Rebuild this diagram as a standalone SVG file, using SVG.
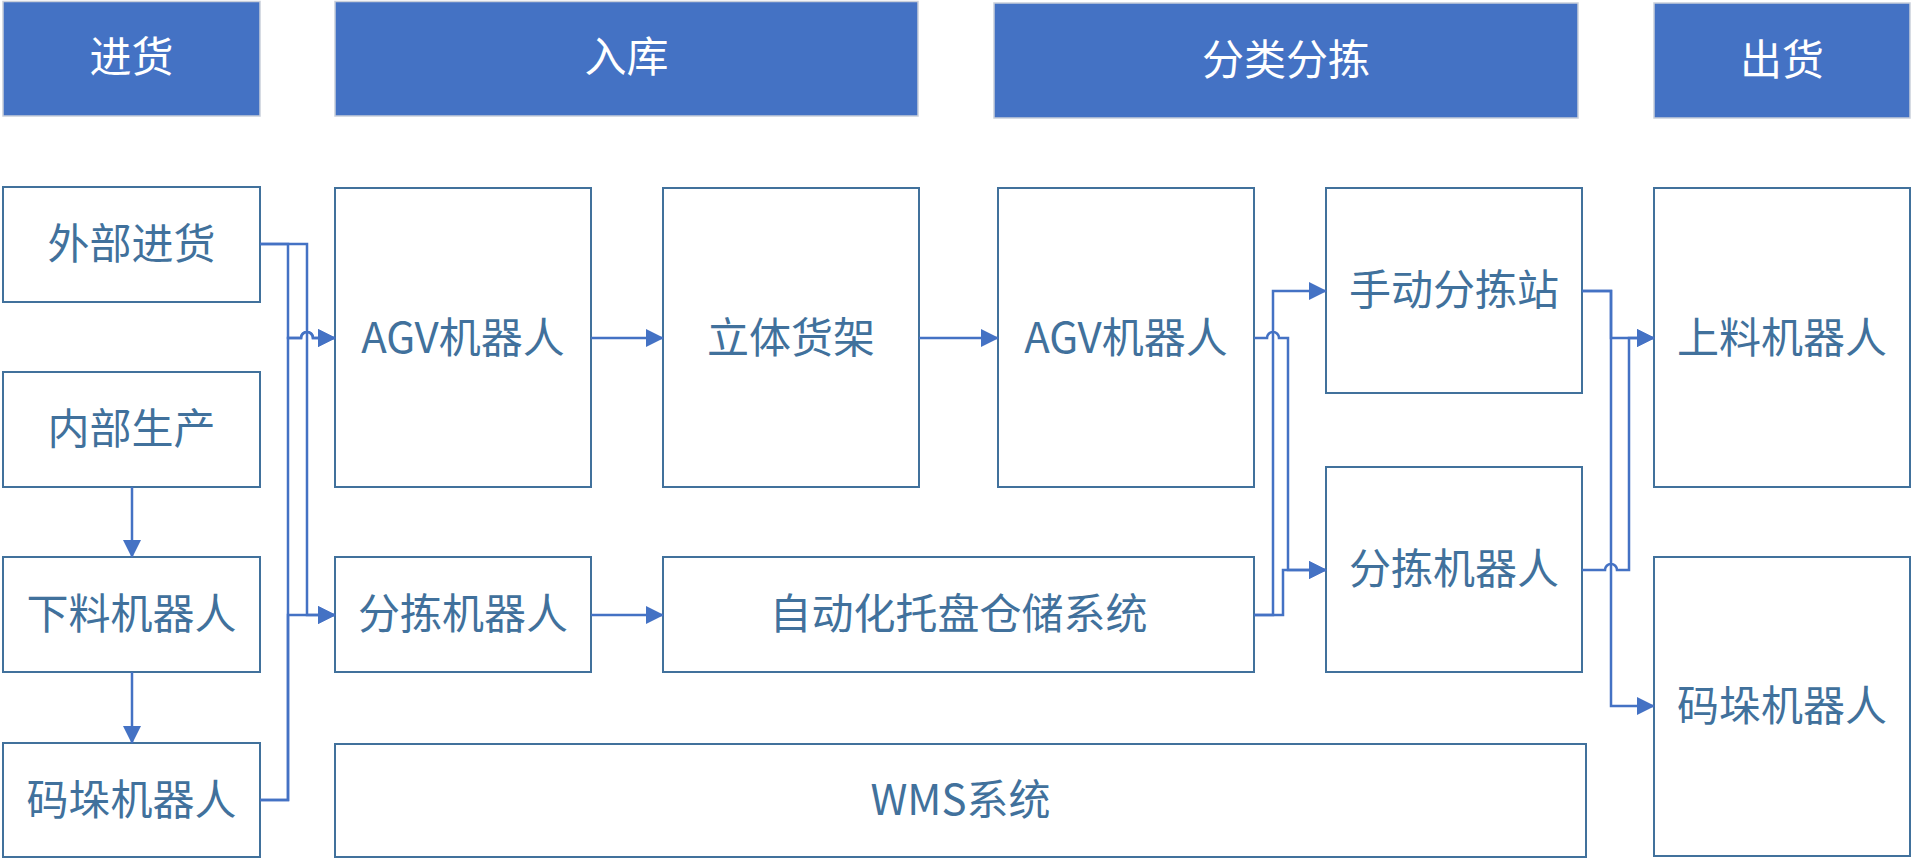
<svg xmlns="http://www.w3.org/2000/svg" width="1914" height="860" viewBox="0 0 1914 860">
<defs>
<style>
.hdr rect{fill:#4472C4;stroke:#C9CFDA;stroke-width:1.5}
.hdr text{fill:#FFFFFF}
.node rect{fill:#FFFFFF;stroke:#41719C;stroke-width:2}
.node text{fill:#41719C}
text{font-family:"Microsoft YaHei","Noto Sans CJK SC","Noto Sans",sans-serif;font-size:42px;text-anchor:middle;dominant-baseline:central}
.conn path{fill:none;stroke:#4472C4;stroke-width:2.5}
</style>
<marker id="arr" markerUnits="userSpaceOnUse" markerWidth="18" markerHeight="18" refX="17" refY="9" orient="auto" viewBox="0 0 18 18">
<path d="M0,0 L18,9 L0,18 z" fill="#4472C4"/>
</marker>
</defs>
<rect width="1914" height="860" fill="#FFFFFF"/>
<g id="h1" class="hdr"><rect x="3" y="1.5" width="257" height="114.5"/><text x="131.5" y="53">进货</text></g>
<g id="h2" class="hdr"><rect x="335" y="1.5" width="583" height="114.5"/><text x="626.5" y="53">入库</text></g>
<g id="h3" class="hdr"><rect x="994" y="3" width="584" height="115"/><text x="1286" y="56">分类分拣</text></g>
<g id="h4" class="hdr"><rect x="1654" y="3" width="256" height="115"/><text x="1782" y="56">出货</text></g>

<g id="n1" class="node"><rect x="3" y="187" width="257" height="115"/><text x="131.5" y="240">外部进货</text></g>
<g id="n2" class="node"><rect x="3" y="372" width="257" height="115"/><text x="131.5" y="425">内部生产</text></g>
<g id="n3" class="node"><rect x="3" y="557" width="257" height="115"/><text x="131.5" y="610">下料机器人</text></g>
<g id="n4" class="node"><rect x="3" y="743" width="257" height="114"/><text x="131.5" y="796">码垛机器人</text></g>
<g id="n5" class="node"><rect x="335" y="188" width="256" height="299"/><text x="463" y="334">AGV机器人</text></g>
<g id="n6" class="node"><rect x="335" y="557" width="256" height="115"/><text x="463" y="610">分拣机器人</text></g>
<g id="n7" class="node"><rect x="663" y="188" width="256" height="299"/><text x="791" y="334">立体货架</text></g>
<g id="n8" class="node"><rect x="663" y="557" width="591" height="115"/><text x="958.5" y="610">自动化托盘仓储系统</text></g>
<g id="n9" class="node"><rect x="998" y="188" width="256" height="299"/><text x="1126" y="334">AGV机器人</text></g>
<g id="n10" class="node"><rect x="335" y="744" width="1251" height="113"/><text x="960.5" y="796">WMS系统</text></g>
<g id="n11" class="node"><rect x="1326" y="188" width="256" height="205"/><text x="1454" y="286">手动分拣站</text></g>
<g id="n12" class="node"><rect x="1326" y="467" width="256" height="205"/><text x="1454" y="565">分拣机器人</text></g>
<g id="n13" class="node"><rect x="1654" y="188" width="256" height="299"/><text x="1782" y="334">上料机器人</text></g>
<g id="n14" class="node"><rect x="1654" y="557" width="256" height="299"/><text x="1782" y="702">码垛机器人</text></g>

<g id="connectors" class="conn">
<path d="M260,244 H288 V338 H301 A6,6 0 0 1 313,338 H335" marker-end="url(#arr)"/>
<path d="M260,244 H307 V615 H335" marker-end="url(#arr)"/>
<path d="M260,800 H288 V338 H301 A6,6 0 0 1 313,338 H335" marker-end="url(#arr)"/>
<path d="M260,800 H288 V615 H335" marker-end="url(#arr)"/>
<path d="M132,487 V557" marker-end="url(#arr)"/>
<path d="M132,672 V743" marker-end="url(#arr)"/>
<path d="M591,338 H663" marker-end="url(#arr)"/>
<path d="M919,338 H998" marker-end="url(#arr)"/>
<path d="M591,615 H663" marker-end="url(#arr)"/>
<path d="M1254,338 H1267 A6,6 0 0 1 1279,338 H1288 V570 H1326" marker-end="url(#arr)"/>
<path d="M1254,615 H1273 V291 H1326" marker-end="url(#arr)"/>
<path d="M1254,615 H1283 V570 H1326" marker-end="url(#arr)"/>
<path d="M1582,291 H1611 V338 H1654" marker-end="url(#arr)"/>
<path d="M1582,291 H1611 V706 H1654" marker-end="url(#arr)"/>
<path d="M1582,570 H1605 A6,6 0 0 1 1617,570 H1629 V338 H1654" marker-end="url(#arr)"/>
</g>
</svg>
